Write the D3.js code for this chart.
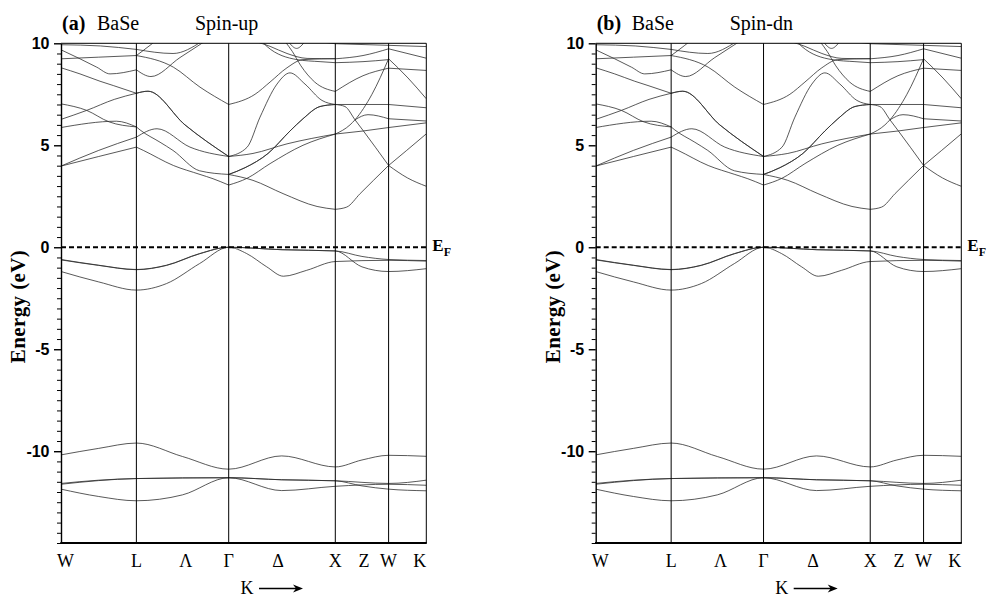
<!DOCTYPE html>
<html>
<head>
<meta charset="utf-8">
<script src="https://cdn.jsdelivr.net/npm/d3@7"></script>
<style>
  body { margin: 0; background: #fff; }
  svg { display: block; }
</style>
</head>
<body>
<svg id="chart" width="987" height="598"></svg>
<script>
// ---- Brillouin-zone path (FCC), cumulative length in units of 2π/a ----
const symPoints = [0, 0.7071, 1.5731, 2.5731, 3.0731, 3.4267];          // W L Γ X W K
const kLabels = ["W", "L", "Λ", "Γ", "Δ", "X", "Z", "W", "K"];
const kLabelPos = [0, 0.7071, 1.17, 1.5731, 2.036, 2.5731, 2.842, 3.0731, 3.4267];
const energyRange = [-14.5, 10];
const majorTicks = [10, 5, 0, -5, -10];
const panelTags = ["(a)", "(b)"];
const compound = "BaSe";
const spinLabels = ["Spin-up", "Spin-dn"];

// ---- bands: [k, E(eV)] ----
// Ba 5p / Se 4s semicore states
const semicoreBands = [
  [[0,-10.18],[0.354,-9.86],[0.7071,-9.60],[1.14,-10.26],[1.5731,-10.88],[2.07,-10.23],[2.5731,-10.77],[2.823,-10.43],[3.0731,-10.20],[3.4267,-10.25]],
  [[0,-11.58],[0.354,-11.42],[0.7071,-11.34],[1.5731,-11.30],[2.07,-11.40],[2.5731,-11.45],[3.0731,-11.58],[3.4267,-11.42]],
  [[0,-11.62],[0.354,-11.44],[0.7071,-11.34],[1.5731,-11.30],[2.07,-11.93],[2.5731,-11.72],[3.0731,-11.62],[3.4267,-11.67]],
  [[0,-11.86],[0.354,-12.22],[0.7071,-12.43],[1.14,-12.14],[1.5731,-11.30],[2.07,-11.40],[2.5731,-11.45],[2.823,-11.70],[3.0731,-11.86],[3.4267,-11.94]]
];
// Se 4p valence bands
const valenceBands = [
  [[0,-0.60],[0.354,-0.88],[0.7071,-1.09],[0.99,-0.88],[1.30,-0.31],[1.5731,0],[2.073,-0.12],[2.5731,-0.18],[2.823,-0.45],[3.0731,-0.60],[3.4267,-0.65]],
  [[0,-0.62],[0.354,-0.89],[0.7071,-1.10],[0.99,-0.89],[1.30,-0.32],[1.5731,0],[1.742,-0.31],[1.93,-0.96],[2.086,-1.42],[2.305,-1.13],[2.5731,-0.70],[3.0731,-0.64],[3.4267,-0.68]],
  [[0,-1.19],[0.354,-1.70],[0.7071,-2.10],[0.99,-1.78],[1.30,-0.80],[1.5731,0],[2.073,-0.12],[2.5731,-0.18],[2.823,-0.96],[3.0731,-1.19],[3.4267,-1.05]]
];
// conduction bands, W → L
const bandsWL = [
  [[0,9.93],[0.37,9.87],[0.7071,9.70]],
  [[0,9.68],[0.178,9.24],[0.335,8.83],[0.46,8.50],[0.7071,8.70]],
  [[0,9.24],[0.354,9.32],[0.7071,9.40]],
  [[0,8.80],[0.178,8.50],[0.366,8.14],[0.49,7.93],[0.7071,7.55]],
  [[0,7.03],[0.241,6.71],[0.45,6.15],[0.7071,5.90]],
  [[0,6.27],[0.241,6.71],[0.50,7.25],[0.7071,7.55]],
  [[0,5.87],[0.52,6.18],[0.7071,5.90]],
  [[0,3.98],[0.354,4.45],[0.7071,4.91]],
  [[0,3.98],[0.354,4.75],[0.7071,5.40]]
];
// conduction bands, L → Γ
const bandsLG = [
  [[0.7071,9.70],[1.051,9.50],[1.323,10.1]],
  [[0.7071,9.40],[0.835,9.90],[0.93,10.3]],
  [[0.7071,9.40],[1.054,8.83],[1.304,7.85],[1.5731,7.0]],
  [[0.7071,8.70],[0.844,8.37],[1.116,9.30],[1.351,10.1]],
  [[0.7071,7.55],[0.816,7.65],[1.163,6.0],[1.5731,4.45]],
  [[0.7071,7.55],[0.816,7.65],[1.163,6.0],[1.5731,4.45]],
  [[0.7071,5.90],[0.742,5.75],[0.929,5.15],[1.05,4.75],[1.30,3.75],[1.5731,3.57]],
  [[0.7071,5.40],[0.901,5.81],[1.21,4.91],[1.5731,4.45]],
  [[0.7071,4.91],[0.772,4.75],[1.054,4.01],[1.304,3.57],[1.426,3.36],[1.5731,3.05]]
];
// conduction bands, Γ → X
const bandsGX = [
  [[1.5731,7.0],[1.82,7.5],[1.961,8.1],[2.12,8.8],[2.27,9.2],[2.5731,9.25]],
  [[1.5731,3.57],[1.726,3.9],[1.942,4.6],[2.148,5.7],[2.27,6.3],[2.43,6.9],[2.5731,7.0]],
  [[1.5731,3.57],[1.726,3.9],[1.942,4.6],[2.148,5.7],[2.27,6.3],[2.43,6.9],[2.5731,7.0]],
  [[1.5731,3.57],[1.801,3.28],[2.083,2.63],[2.402,2.0],[2.5731,1.86]],
  [[1.5731,4.45],[1.801,4.6],[2.12,5.07],[2.5731,5.55]],
  [[1.5731,3.05],[1.745,3.38],[1.961,4.1],[2.27,5.0],[2.5731,5.55]],
  [[1.5731,4.45],[1.745,4.9],[1.867,6.38],[2.026,8.0],[2.148,8.55],[2.289,8.0],[2.448,7.2],[2.5731,7.0]],
  [[2.10,10.1],[2.17,9.6],[2.25,8.9],[2.38,8.1],[2.5731,7.64]],
  [[1.82,10.1],[1.961,9.85],[2.12,9.5],[2.308,9.26],[2.5731,9.24]],
  [[1.886,10.1],[1.933,9.84],[2.214,9.2],[2.43,9.1],[2.5731,9.05]],
  [[2.13,10.1],[2.21,9.75],[2.29,10.1]],
  [[2.40,10.1],[2.5731,9.98]]
];
// conduction bands, X → W
const bandsXW = [
  [[2.5731,7.0],[3.0731,7.0]],
  [[2.5731,7.0],[2.664,6.9],[2.758,6.25],[2.833,5.73],[3.0731,4.01]],
  [[2.5731,5.55],[2.711,6.0],[2.758,6.25],[2.917,7.5],[3.0731,9.24]],
  [[2.5731,5.55],[2.833,5.7],[3.0731,5.87]],
  [[2.5731,1.86],[2.68,1.97],[2.806,2.63],[2.931,3.28],[3.0731,4.01]],
  [[2.5731,7.64],[2.833,8.41],[3.0731,8.78]],
  [[2.758,6.25],[2.88,6.5],[3.0731,6.3]],
  [[2.5731,9.98],[3.0731,9.90]],
  [[2.5731,9.24],[2.833,9.4],[3.0731,9.73]],
  [[2.5731,9.05],[2.833,9.1],[3.0731,9.2]]
];
// conduction bands, W → K
const bandsWK = [
  [[3.0731,9.90],[3.4267,9.84]],
  [[3.0731,9.73],[3.4267,9.27]],
  [[3.0731,9.24],[3.255,8.3],[3.4267,7.28]],
  [[3.0731,8.78],[3.4267,8.67]],
  [[3.0731,7.0],[3.4267,6.84]],
  [[3.0731,6.3],[3.4267,6.19]],
  [[3.0731,5.87],[3.4267,6.1]],
  [[3.0731,4.01],[3.243,4.75],[3.4267,5.56]],
  [[3.0731,4.01],[3.25,3.4],[3.4267,2.99]]
];

const allBands = [].concat(semicoreBands, valenceBands, bandsWL, bandsLG, bandsGX, bandsXW, bandsWK);

// ---- drawing ----
const svg = d3.select("#chart");
const plotTop = 43.3, plotBottom = 543;
const panels = [
  { x0: 61, x1: 426.3 },
  { x0: 595.7, x1: 961.3 }
];
const serif = "'Liberation Serif', 'Times New Roman', serif";
const sans = "'Liberation Sans', Arial, sans-serif";

panels.forEach((p, i) => {
  const g = svg.append("g");
  const x = d3.scaleLinear().domain([0, symPoints[symPoints.length - 1]]).range([p.x0, p.x1]);
  const y = d3.scaleLinear().domain(energyRange).range([plotBottom, plotTop]);

  const clipId = "clip" + i;
  svg.append("clipPath").attr("id", clipId)
    .append("rect").attr("x", p.x0).attr("y", plotTop)
    .attr("width", p.x1 - p.x0).attr("height", plotBottom - plotTop);

  // band lines
  const line = d3.line().x(d => x(d[0])).y(d => y(d[1])).curve(d3.curveMonotoneX);
  g.append("g").attr("clip-path", `url(#${clipId})`)
    .selectAll("path").data(allBands).join("path")
    .attr("d", line)
    .attr("fill", "none")
    .attr("stroke", "#2a2a2a")
    .attr("stroke-opacity", 0.78)
    .attr("stroke-width", 1);

  // vertical lines at high-symmetry points
  g.selectAll("line.sym").data(symPoints.slice(1)).join("line")
    .attr("class", "sym")
    .attr("x1", d => x(d)).attr("x2", d => x(d))
    .attr("y1", plotTop).attr("y2", plotBottom)
    .attr("stroke", "#000").attr("stroke-width", 1);

  // top frame line
  g.append("line").attr("x1", p.x0).attr("x2", p.x1)
    .attr("y1", plotTop).attr("y2", plotTop)
    .attr("stroke", "#000").attr("stroke-width", 1);

  // Fermi level
  g.append("line").attr("x1", p.x0).attr("x2", p.x1)
    .attr("y1", y(0)).attr("y2", y(0))
    .attr("stroke", "#000").attr("stroke-width", 2)
    .attr("stroke-dasharray", "5,3");

  // y axis: minor ticks every 0.5 eV, major every 5 eV
  const minorTicks = d3.range(energyRange[0], energyRange[1] + 0.001, 0.5).filter(v => !majorTicks.includes(v));
  g.append("g").attr("transform", `translate(${p.x0},0)`)
    .call(d3.axisLeft(y).tickValues(minorTicks).tickSize(4).tickSizeOuter(0).tickFormat(""))
    .call(a => a.selectAll("line").attr("stroke-width", 1))
    .call(a => a.select(".domain").attr("stroke-width", 1.4));
  g.append("g").attr("transform", `translate(${p.x0},0)`)
    .call(d3.axisLeft(y).tickValues(majorTicks).tickSize(7).tickSizeOuter(0).tickPadding(4.5)
      .tickFormat(d => String(d)))
    .call(a => a.select(".domain").remove())
    .call(a => a.selectAll("line").attr("stroke-width", 1.4))
    .call(a => a.selectAll("text")
      .attr("font-family", sans).attr("font-weight", "bold")
      .attr("font-size", 16).attr("fill", "#000"));

  // bottom axis line
  g.append("line").attr("x1", p.x0 - 0.7).attr("x2", p.x1 + 0.5)
    .attr("y1", plotBottom).attr("y2", plotBottom)
    .attr("stroke", "#000").attr("stroke-width", 2.2);

  // k-path labels
  g.selectAll("text.klab").data(kLabels).join("text")
    .attr("class", "klab")
    .attr("x", (d, j) => x(kLabelPos[j]) + (j === 0 ? -4 : 0))
    .attr("y", 567)
    .attr("text-anchor", (d, j) => j === 0 ? "start" : (j === kLabels.length - 1 ? "end" : "middle"))
    .attr("font-family", serif).attr("font-size", 18).attr("fill", "#000")
    .text(d => d);

  // "K →" caption
  g.append("text").attr("x", p.x0 + 186).attr("y", 594)
    .attr("text-anchor", "middle")
    .attr("font-family", serif).attr("font-size", 18).text("K");
  const ay = 588.5, ax0 = p.x0 + 198, ax1 = p.x0 + 242;
  g.append("line").attr("x1", ax0).attr("x2", ax1 - 6).attr("y1", ay).attr("y2", ay)
    .attr("stroke", "#000").attr("stroke-width", 1.3);
  g.append("path")
    .attr("d", `M${ax1},${ay} L${ax1 - 10},${ay - 4} L${ax1 - 7},${ay} L${ax1 - 10},${ay + 4} Z`)
    .attr("fill", "#000");

  // y label
  g.append("text")
    .attr("transform", `translate(${p.x0 - 41},306.5) rotate(-90)`)
    .attr("text-anchor", "middle").attr("dominant-baseline", "middle")
    .attr("font-family", serif).attr("font-weight", "bold").attr("font-size", 21)
    .attr("letter-spacing", 0.4)
    .text("Energy (eV)");

  // E_F label
  const ef = g.append("text").attr("x", p.x1 + 6).attr("y", 251)
    .attr("font-family", serif).attr("font-weight", "bold").attr("font-size", 17);
  ef.append("tspan").text("E");
  ef.append("tspan").attr("font-size", 12).attr("dy", 5).text("F");

  // title
  g.append("text").attr("x", p.x0 + 1).attr("y", 30)
    .attr("font-family", serif).attr("font-weight", "bold").attr("font-size", 20)
    .text(panelTags[i]);
  g.append("text").attr("x", p.x0 + 36).attr("y", 30)
    .attr("font-family", serif).attr("font-size", 20).text(compound);
  g.append("text").attr("x", p.x0 + 134).attr("y", 30)
    .attr("font-family", serif).attr("font-size", 20).text(spinLabels[i]);
});
</script>
</body>
</html>
